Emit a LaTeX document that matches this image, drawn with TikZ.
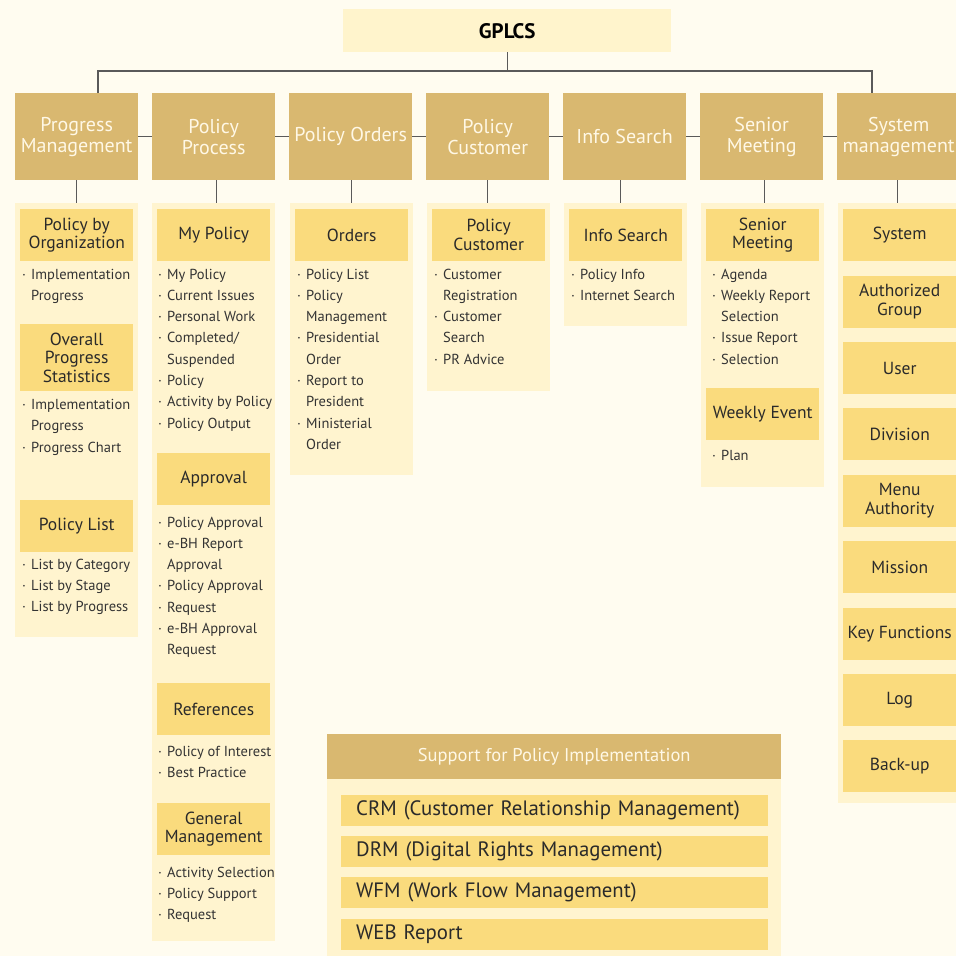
\documentclass[tikz,border=0pt]{standalone}
\usepackage{fontspec}
\setmainfont{PT Sans}
\definecolor{bgcol}{HTML}{FFFCF0}
\definecolor{panelcol}{HTML}{FFF4CF}
\definecolor{goldcol}{HTML}{FADB7D}
\definecolor{tancol}{HTML}{D9B870}
\definecolor{rootcol}{HTML}{FFF4CC}
\definecolor{linecol}{HTML}{5A5A5A}
\definecolor{inkcol}{HTML}{2A2A2A}
\definecolor{itemcol}{HTML}{333333}
\definecolor{pale}{HTML}{FFF8E6}

\newcommand\gptop{\fontsize{20}{20.7}\selectfont}
\newcommand\gpsub{\fontsize{17.5}{18.8}\selectfont}
\newcommand\gpitem{\fontsize{14.5}{17}\selectfont}
\newcommand\gpbar{\fontsize{20.8}{22}\selectfont}
% bulleted line and continuation line of an item list
\newcommand\gpb[1]{\makebox[9pt][l]{·}#1}
\newcommand\gpc[1]{\hspace*{9pt}#1}
% name, x, y of first line centre, lines
\newcommand\gplist[4]{%
  \foreach \t [count=\i from 0] in {#4}
    \node[item] (#1-\i) at (#2,{#3+5+\i*21.3}) {\t};}

\begin{document}
\begin{tikzpicture}[x=1pt,y=-1pt,
  conn/.style={draw=linecol,line width=1.4pt},
  rootbox/.style={fill=rootcol,inner sep=0pt,minimum width=328pt,minimum height=43pt,
    font=\fontsize{21}{22}\selectfont\bfseries,text=black},
  topbox/.style={fill=tancol,inner sep=0pt,minimum width=123pt,minimum height=87pt,
    align=center,font=\gptop,text=pale},
  panel/.style={fill=panelcol,inner sep=0pt,minimum width=123pt},
  subbox/.style={fill=goldcol,inner sep=0pt,minimum width=113pt,minimum height=52pt,
    align=center,font=\gpsub,text=inkcol},
  item/.style={anchor=base west,inner sep=0pt,font=\gpitem,text=itemcol},
  supbox/.style={fill=tancol,inner sep=0pt,minimum width=454pt,minimum height=45pt,
    font=\fontsize{18.5}{20}\selectfont,text=pale},
  bar/.style={fill=goldcol,inner ysep=0pt,inner xsep=15pt,minimum height=31pt,
    text width=397pt,align=left,font=\gpbar,text=inkcol}]
\useasboundingbox (0,0) rectangle (956,956);
\clip (0,0) rectangle (956,956);
\fill[bgcol] (0,0) rectangle (956,956);

% root
\node[rootbox,anchor=north west] (root) at (343,9) {GPLCS};

% top level modules
\node[topbox,anchor=north west] (t1) at (15,93)  {Progress\\Management};
\node[topbox,anchor=north west] (t2) at (152,93) {Policy\\Process};
\node[topbox,anchor=north west] (t3) at (289,93) {Policy Orders};
\node[topbox,anchor=north west] (t4) at (426,93) {Policy\\Customer};
\node[topbox,anchor=north west] (t5) at (563,93) {Info Search};
\node[topbox,anchor=north west] (t6) at (700,93) {Senior\\Meeting};
\node[topbox,anchor=north west] (t7) at (837,93) {System\\management};

% bus from the root
\coordinate (busL) at (98,71);
\coordinate (busR) at (872,71);
\draw[conn] (root.south) -- (root.south |- busL);
\draw[conn] (busL |- t1.north) -- (busL) -- (busR) -- (busR |- t7.north);
\draw[conn] (t1.east) -- (t2.west);
\draw[conn] (t2.east) -- (t3.west);
\draw[conn] (t3.east) -- (t4.west);
\draw[conn] (t4.east) -- (t5.west);
\draw[conn] (t5.east) -- (t6.west);
\draw[conn] (t6.east) -- (t7.west);

% module panels
\node[panel,anchor=north west,minimum height=434pt] (p1) at (15,203) {};
\node[panel,anchor=north west,minimum height=738pt] (p2) at (152,203) {};
\node[panel,anchor=north west,minimum height=272pt] (p3) at (290,203) {};
\node[panel,anchor=north west,minimum height=188pt] (p4) at (427,203) {};
\node[panel,anchor=north west,minimum height=123pt] (p5) at (564,203) {};
\node[panel,anchor=north west,minimum height=284pt] (p6) at (701,203) {};
\node[panel,anchor=north west,minimum height=600pt,minimum width=128pt] (p7) at (838,203) {};

\draw[conn] ([xshift=-0.5pt]t1.south) -- ([xshift=-0.5pt]t1.south |- p1.north);
\draw[conn] ([xshift=2.5pt]t2.south) -- ([xshift=2.5pt]t2.south |- p2.north);
\draw[conn] ([xshift=0.5pt]t3.south) -- ([xshift=0.5pt]t3.south |- p3.north);
\draw[conn] ([xshift=-0.5pt]t4.south) -- ([xshift=-0.5pt]t4.south |- p4.north);
\draw[conn] ([xshift=-4.5pt]t5.south) -- ([xshift=-4.5pt]t5.south |- p5.north);
\draw[conn] ([xshift=2.5pt]t6.south) -- ([xshift=2.5pt]t6.south |- p6.north);
\draw[conn] ([xshift=-1.5pt]t7.south) -- ([xshift=-1.5pt]t7.south |- p7.north);

% Progress Management
\node[subbox,anchor=north west] (s1a) at (20,209) {Policy by\\Organization};
\gplist{l1a}{22}{274}{\gpb{Implementation},\gpc{Progress}}
\node[subbox,anchor=north west,minimum height=67pt] (s1b) at (20,324) {Overall\\Progress\\Statistics};
\gplist{l1b}{22}{404.5}{\gpb{Implementation},\gpc{Progress},\gpb{Progress Chart}}
\node[subbox,anchor=north west] (s1c) at (20,500) {Policy List};
\gplist{l1c}{22}{564}{\gpb{List by Category},\gpb{List by Stage},\gpb{List by Progress}}

% Policy Process
\node[subbox,anchor=north west] (s2a) at (157,209) {My Policy};
\gplist{l2a}{158}{274}{\gpb{My Policy},\gpb{Current Issues},\gpb{Personal Work},\gpb{Completed/},\gpc{Suspended},\gpb{Policy},\gpb{Activity by Policy},\gpb{Policy Output}}
\node[subbox,anchor=north west] (s2b) at (157,453) {Approval};
\gplist{l2b}{158}{522}{\gpb{Policy Approval},\gpb{e-BH Report},\gpc{Approval},\gpb{Policy Approval},\gpb{Request},\gpb{e-BH Approval},\gpc{Request}}
\node[subbox,anchor=north west] (s2c) at (157,683) {References};
\gplist{l2c}{158}{751}{\gpb{Policy of Interest},\gpb{Best Practice}}
\node[subbox,anchor=north west] (s2d) at (157,803) {General\\Management};
\gplist{l2d}{158}{872}{\gpb{Activity Selection},\gpb{Policy Support},\gpb{Request}}

% Policy Orders
\node[subbox,anchor=north west] (s3a) at (295,209) {Orders};
\gplist{l3a}{297}{274}{\gpb{Policy List},\gpb{Policy},\gpc{Management},\gpb{Presidential},\gpc{Order},\gpb{Report to},\gpc{President},\gpb{Ministerial},\gpc{Order}}

% Policy Customer
\node[subbox,anchor=north west] (s4a) at (432,209) {Policy\\Customer};
\gplist{l4a}{434}{274}{\gpb{Customer},\gpc{Registration},\gpb{Customer},\gpc{Search},\gpb{PR Advice}}

% Info Search
\node[subbox,anchor=north west] (s5a) at (569,209) {Info Search};
\gplist{l5a}{571}{274}{\gpb{Policy Info},\gpb{Internet Search}}

% Senior Meeting
\node[subbox,anchor=north west] (s6a) at (706,209) {Senior\\Meeting};
\gplist{l6a}{712}{274}{\gpb{Agenda},\gpb{Weekly Report},\gpc{Selection},\gpb{Issue Report},\gpb{Selection}}
\node[subbox,anchor=north west] (s6b) at (706,388) {Weekly Event};
\gplist{l6b}{712}{455}{\gpb{Plan}}

% System management
\foreach \t [count=\i from 0] in {System,{Authorized\\Group},User,Division,{Menu\\Authority},Mission,Key Functions,Log,Back-up}
  \node[subbox,anchor=north west] (s7-\i) at (843,{209+\i*66.4}) {\t};

% Support for Policy Implementation
\node[supbox,anchor=north west] (sup) at (327,734) {Support for Policy Implementation};
\node[panel,anchor=north west,minimum width=454pt,minimum height=190pt] (supp) at (327,779) {};
\node[bar,anchor=north west] (b1) at (341,795) {CRM (Customer Relationship Management)};
\node[bar,anchor=north west] (b2) at (341,836) {DRM (Digital Rights Management)};
\node[bar,anchor=north west] (b3) at (341,877) {WFM (Work Flow Management)};
\node[bar,anchor=north west] (b4) at (341,919) {WEB Report};
\end{tikzpicture}
\end{document}
